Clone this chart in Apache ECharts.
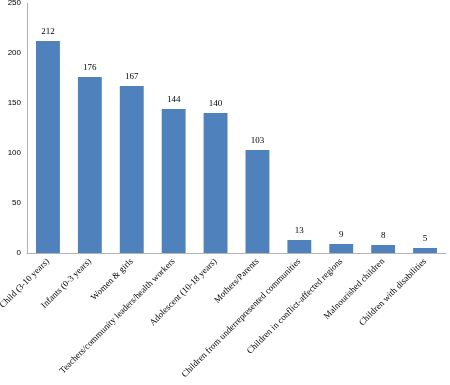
<!DOCTYPE html>
<html>
<head>
<meta charset="utf-8">
<script src="https://cdn.jsdelivr.net/npm/echarts@6/dist/echarts.min.js"></script>
<style>
  html, body { margin: 0; padding: 0; background: #fff; }
  #chart { width: 450px; height: 385px; }
</style>
</head>
<body>
<div id="chart"></div>
<script>
const categories = [
  'Child (3-10 years)',
  'Infants (0-3 years)',
  'Women & girls',
  'Teachers/community leaders/health workers',
  'Adolescent (10-18 years)',
  'Mothers/Parents',
  'Children from underrepresented communities',
  'Children in conflict-affected regions',
  'Malnourished children',
  'Children with disabilities'
];
const counts = [212, 176, 167, 144, 140, 103, 13, 9, 8, 5];
const yTicks = [0, 50, 100, 150, 200, 250];

const chart = echarts.init(document.getElementById('chart'));
chart.setOption({
  animation: false,
  grid: { left: 27, right: 4, top: 3, bottom: 132, containLabel: false, outerBoundsMode: 'none' },
  xAxis: {
    type: 'category',
    data: categories,
    axisLine: { lineStyle: { color: '#b3b3b3' } },
    axisTick: { show: false },
    axisLabel: {
      interval: 0,
      rotate: 45,
      margin: 7,
      color: '#000',
      fontFamily: 'Liberation Serif',
      fontSize: 9
    }
  },
  yAxis: {
    type: 'value',
    min: yTicks[0],
    max: yTicks[yTicks.length - 1],
    interval: 50,
    axisLine: { show: true, lineStyle: { color: '#b3b3b3' } },
    axisTick: { show: false },
    splitLine: { show: false },
    axisLabel: {
      color: '#000',
      fontFamily: 'Liberation Sans',
      fontSize: 8,
      margin: 6
    }
  },
  series: [{
    type: 'bar',
    data: counts,
    barWidth: '57%',
    itemStyle: { color: '#4f81bd' },
    label: {
      show: true,
      position: 'top',
      distance: 5,
      color: '#000',
      fontFamily: 'Liberation Serif',
      fontSize: 9
    }
  }]
});
</script>
</body>
</html>
